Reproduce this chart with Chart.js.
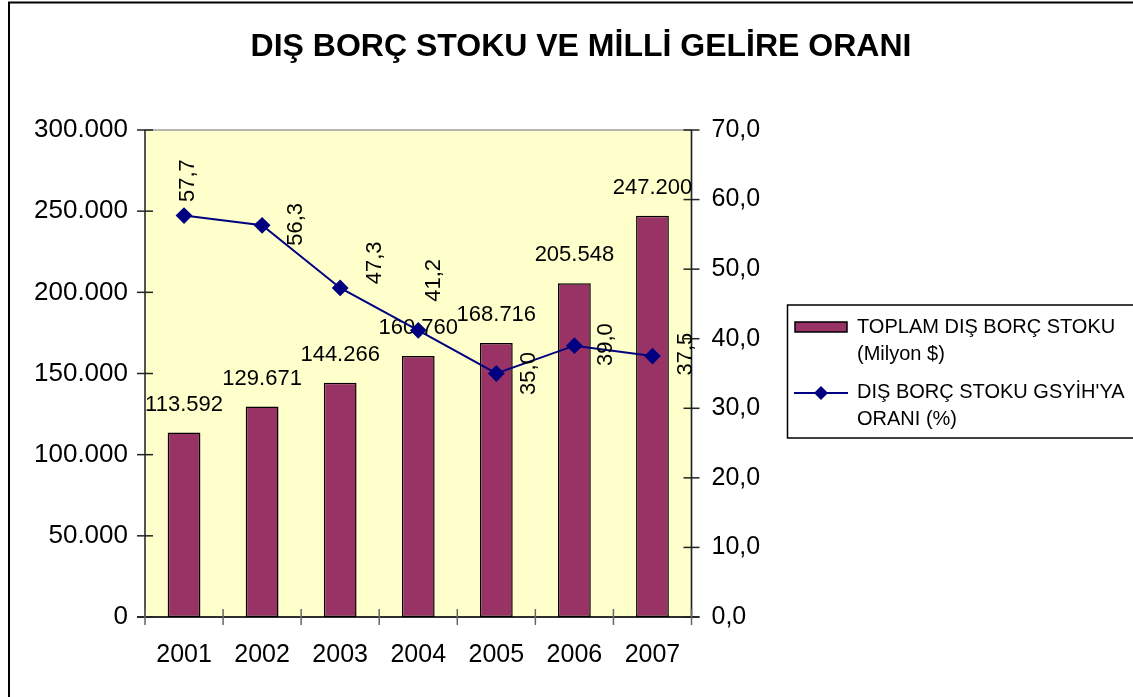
<!DOCTYPE html>
<html>
<head>
<meta charset="utf-8">
<script src="https://cdn.jsdelivr.net/npm/chart.js@4"></script>
<style>
  html, body { margin: 0; padding: 0; background: #fff; }
  #wrap { width: 1133px; height: 697px; }
</style>
</head>
<body>
<div id="wrap"><canvas id="borcChart"></canvas></div>
<script>
// values
const years = ['2001', '2002', '2003', '2004', '2005', '2006', '2007'];
const borcStoku = [113592, 129671, 144266, 160760, 168716, 205548, 247200];   // Milyon $
const gsyihOrani = [57.7, 56.3, 47.3, 41.2, 35.0, 39.0, 37.5];                // %
const borcLabel = ['TOPLAM DIŞ BORÇ STOKU', '(Milyon $)'];
const oranLabel = ["DIŞ BORÇ STOKU GSYİH'YA", 'ORANI (%)'];

// where the rotated % labels sit next to their points (px)
const oranLabelShift = [[4, -35], [34, -1], [35, -25], [16, -50], [33, 0], [32, -1], [33, -2]];

const FONT = '"Liberation Sans", Arial, sans-serif';

function binlik(v) {
	return String(v).replace(/\B(?=(\d{3})+(?!\d))/g, '.');
}
function ondalik(v) {
	return v.toFixed(1).replace('.', ',');
}

const plotFrame = {
	id: 'plotFrame',
	beforeDraw(chart) {
		const ctx = chart.ctx;
		const a = chart.chartArea;
		ctx.save();
		// outer frame
		ctx.strokeStyle = '#000';
		ctx.lineWidth = 2;
		ctx.strokeRect(9, 2.5, 1200, 800);
		// plot area
		ctx.fillStyle = '#ffffcc';
		ctx.fillRect(a.left, a.top, a.right - a.left, a.bottom - a.top);
		ctx.strokeStyle = '#a0a0a0';
		ctx.lineWidth = 1.5;
		ctx.strokeRect(a.left, a.top, a.right - a.left, a.bottom - a.top);
		// title
		ctx.fillStyle = '#000';
		ctx.font = 'bold 32px ' + FONT;
		ctx.textAlign = 'center';
		ctx.textBaseline = 'middle';
		ctx.fillText('DIŞ BORÇ STOKU VE MİLLİ GELİRE ORANI', 581, 47);
		ctx.restore();
	},
	beforeDatasetsDraw(chart) {
		const ctx = chart.ctx;
		const a = chart.chartArea;
		const sy = chart.scales.y, sy1 = chart.scales.y1, sx = chart.scales.x;
		ctx.save();
		ctx.lineWidth = 1.5;
		// axis lines
		ctx.strokeStyle = '#333';
		ctx.beginPath(); ctx.moveTo(a.left, a.top); ctx.lineTo(a.left, a.bottom); ctx.stroke();
		ctx.strokeStyle = '#222';
		ctx.beginPath(); ctx.moveTo(a.right, a.top); ctx.lineTo(a.right, a.bottom); ctx.stroke();
		ctx.strokeStyle = '#000';
		ctx.beginPath(); ctx.moveTo(a.left - 8, a.bottom); ctx.lineTo(a.right + 8, a.bottom); ctx.stroke();
		// crossing tick marks
		ctx.strokeStyle = '#222';
		sy.ticks.forEach((t, i) => {
			const y = sy.getPixelForTick(i);
			ctx.beginPath(); ctx.moveTo(a.left - 8, y); ctx.lineTo(a.left + 8, y); ctx.stroke();
		});
		sy1.ticks.forEach((t, i) => {
			const y = sy1.getPixelForTick(i);
			ctx.beginPath(); ctx.moveTo(a.right - 8, y); ctx.lineTo(a.right + 8, y); ctx.stroke();
		});
		ctx.strokeStyle = '#666';
		const step = sx.getPixelForValue(1) - sx.getPixelForValue(0);
		for (let i = 0; i <= years.length; i++) {
			const x = sx.getPixelForValue(0) - step / 2 + i * step;
			ctx.beginPath(); ctx.moveTo(x, a.bottom - 8); ctx.lineTo(x, a.bottom + 8); ctx.stroke();
		}
		ctx.restore();
	},
	afterDatasetDraw(chart, args) {
		if (args.index !== 0) return;
		// values above the bars, drawn before the line goes on top
		const ctx = chart.ctx;
		ctx.save();
		ctx.fillStyle = '#000';
		ctx.font = '22px ' + FONT;
		ctx.textAlign = 'center';
		ctx.textBaseline = 'middle';
		args.meta.data.forEach((bar, i) => {
			ctx.fillText(binlik(borcStoku[i]), bar.x, bar.y - 28);
		});
		ctx.restore();
	},
	afterDatasetsDraw(chart) {
		const ctx = chart.ctx;
		const meta = chart.getDatasetMeta(1);
		ctx.save();
		ctx.fillStyle = '#000';
		ctx.font = '22px ' + FONT;
		ctx.textAlign = 'center';
		ctx.textBaseline = 'middle';
		meta.data.forEach((pt, i) => {
			ctx.save();
			ctx.translate(pt.x + oranLabelShift[i][0], pt.y + oranLabelShift[i][1]);
			ctx.rotate(-Math.PI / 2);
			ctx.fillText(ondalik(gsyihOrani[i]), 0, 0);
			ctx.restore();
		});

		// legend box
		ctx.strokeStyle = '#000';
		ctx.lineWidth = 1.5;
		ctx.strokeRect(787.5, 305, 400, 133);
		ctx.fillStyle = '#993366';
		ctx.fillRect(795, 322, 52, 10);
		ctx.strokeRect(795, 322, 52, 10);
		ctx.strokeStyle = '#000080';
		ctx.lineWidth = 2;
		ctx.beginPath(); ctx.moveTo(794, 393); ctx.lineTo(848, 393); ctx.stroke();
		ctx.fillStyle = '#000080';
		ctx.beginPath();
		ctx.moveTo(821, 386); ctx.lineTo(828, 393); ctx.lineTo(821, 400); ctx.lineTo(814, 393);
		ctx.closePath(); ctx.fill();

		ctx.fillStyle = '#000';
		ctx.font = '20px ' + FONT;
		ctx.textAlign = 'left';
		ctx.textBaseline = 'alphabetic';
		ctx.fillText(borcLabel[0], 857, 333);
		ctx.fillText(borcLabel[1], 857, 360);
		ctx.fillText(oranLabel[0], 857, 398);
		ctx.fillText(oranLabel[1], 857, 425);
		ctx.restore();
	}
};

new Chart(document.getElementById('borcChart'), {
	data: {
		labels: years,
		datasets: [{
			type: 'bar',
			label: borcLabel.join(' '),
			data: borcStoku,
			backgroundColor: '#993366',
			borderColor: '#000',
			borderWidth: 1.5,
			borderSkipped: false,
			categoryPercentage: 1,
			barPercentage: 0.42,
			yAxisID: 'y',
			order: 1
		},
		{
			type: 'line',
			label: oranLabel.join(' '),
			data: gsyihOrani,
			borderColor: '#000080',
			borderWidth: 2,
			pointStyle: 'rectRot',
			pointRadius: 7,
			pointBackgroundColor: '#000080',
			pointBorderColor: '#000080',
			tension: 0,
			yAxisID: 'y1',
			order: 0
		}]
	},
	options: {
		responsive: true,
		maintainAspectRatio: false,
		animation: false,
		layout: { padding: { left: 10, top: 130, right: 351.5, bottom: 20 } },
		plugins: {
			legend: { display: false },
			title: { display: false },
			tooltip: { enabled: false }
		},
		scales: {
			x: {
				grid: { display: false },
				border: { display: false },
				ticks: { color: '#000', font: { family: FONT, size: 25 }, padding: 15 },
				afterFit(s) { s.height = 60; }
			},
			y: {
				position: 'left',
				min: 0,
				max: 300000,
				grid: { display: false },
				border: { display: false },
				ticks: {
					stepSize: 50000,
					color: '#000',
					font: { family: FONT, size: 26 },
					padding: 9,
					callback: v => binlik(v)
				},
				afterFit(s) { s.width = 135; }
			},
			y1: {
				position: 'right',
				min: 0,
				max: 70,
				grid: { display: false },
				border: { display: false },
				ticks: {
					stepSize: 10,
					color: '#000',
					font: { family: FONT, size: 25 },
					padding: 12,
					callback: v => ondalik(v)
				},
				afterFit(s) { s.width = 90; }
			}
		}
	},
	plugins: [plotFrame]
});
</script>
</body>
</html>
